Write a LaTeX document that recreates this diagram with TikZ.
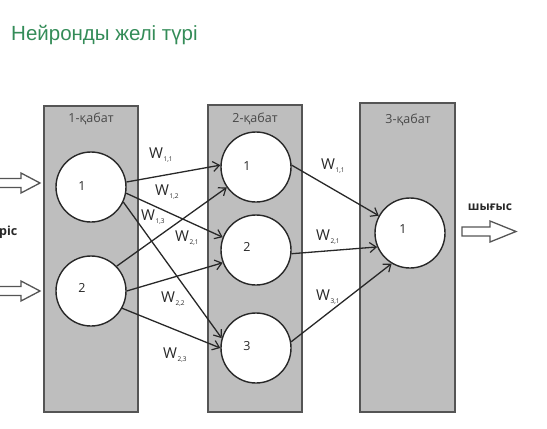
\documentclass[tikz,border=0pt]{standalone}
\usepackage{fontspec}
\setmainfont{Open Sans}
\newfontfamily\titlefont{Liberation Sans}
\usetikzlibrary{arrows.meta}
\definecolor{titlegreen}{RGB}{52,140,88}
\definecolor{boxgray}{RGB}{190,190,190}
\definecolor{boxedge}{RGB}{85,85,85}
\definecolor{inkgray}{RGB}{40,40,40}
\newcommand{\wgt}[1]{W\kern0.5pt\raisebox{-3.5pt}{\fontsize{6.5}{7}\selectfont #1}}
\tikzset{
  layerbox/.style={draw=boxedge, line width=1.1pt, fill=boxgray},
  neuron/.style={circle, draw=inkgray, line width=1.4pt, fill=white, minimum size=70pt, inner sep=0pt},
  nlabel/.style={font=\fontsize{12.5}{14}\selectfont, text=inkgray},
  laylabel/.style={font=\fontsize{12.5}{14}\selectfont, text=inkgray!85},
  wlabel/.style={font=\fontsize{15}{17}\selectfont, text=inkgray, anchor=west, inner sep=0pt},
  conn/.style={draw=inkgray, line width=1.3pt, -{Straight Barb[length=6.5pt,width=10pt,line width=1.2pt]}},
  blockarrow/.style={draw=boxedge, line width=1.3pt, fill=white, line join=miter}
}
\begin{document}
\begin{tikzpicture}[x=1pt,y=-1pt]
\useasboundingbox (0,0) rectangle (547,429);
% title
\node[anchor=west, inner sep=0pt, text=titlegreen, font=\titlefont\fontsize{20.5}{24}\selectfont] (title) at (11,35) {Нейронды желі түрі};
% layer boxes
\draw[layerbox] (44,106) rectangle (138,412);
\draw[layerbox] (208,105) rectangle (302,412);
\draw[layerbox] (360,103) rectangle (455,412);
\node[laylabel] (l1) at (91,119) {1-қабат};
\node[laylabel] (l2) at (255,119) {2-қабат};
\node[laylabel] (l3) at (408,120) {3-қабат};
% neurons
\node[neuron] (a1) at (91,187) {};
\node[neuron] (a2) at (91,291) {};
\node[neuron] (b1) at (256,167) {};
\node[neuron] (b2) at (256,250) {};
\node[neuron] (b3) at (256,348) {};
\node[neuron] (c1) at (410,233) {};
\node[nlabel] (ta1) at (82,186) {1};
\node[nlabel] (ta2) at (82,288) {2};
\node[nlabel] (tb1) at (247,166) {1};
\node[nlabel] (tb2) at (247,247) {2};
\node[nlabel] (tb3) at (247,346) {3};
\node[nlabel] (tc1) at (403,229) {1};
% connections
\draw[conn] (a1.8) -- (b1.177);
\draw[conn] (a1.-10) -- (b2.159);
\draw[conn] (a1.-25) -- (b3.164);
\draw[conn] (a2.44) -- (b1.215);
\draw[conn] (a2.0) -- (b2.201);
\draw[conn] (a2.-29) -- (b3.180);
\draw[conn] (b1.3) -- (c1.151);
\draw[conn] (b2.-6) -- (c1.203);
\draw[conn] (b3.10) -- (c1.239);
% weights
\node[wlabel] (w11) at (149,155) {\wgt{1,1}};
\node[wlabel] (w12) at (155,192) {\wgt{1,2}};
\node[wlabel] (w13) at (141,217) {\wgt{1,3}};
\node[wlabel] (w21) at (175,238) {\wgt{2,1}};
\node[wlabel] (w22) at (161,299) {\wgt{2,2}};
\node[wlabel] (w23) at (163,355) {\wgt{2,3}};
\node[wlabel] (v11) at (321,166) {\wgt{1,1}};
\node[wlabel] (v21) at (316,237) {\wgt{2,1}};
\node[wlabel] (v31) at (316,297) {\wgt{3,1}};
% input / output arrows
\draw[blockarrow] (-5,178.5) -- (21,178.5) -- (21,173) -- (40,183) -- (21,193) -- (21,187.5) -- (-5,187.5) -- cycle;
\draw[blockarrow] (-5,286.5) -- (21,286.5) -- (21,281) -- (40,291) -- (21,301) -- (21,295.5) -- (-5,295.5) -- cycle;
\draw[blockarrow] (462,227) -- (490,227) -- (490,221) -- (516,231.5) -- (490,242) -- (490,236) -- (462,236) -- cycle;
\node[font=\fontsize{12}{14}\selectfont\bfseries, text=inkgray] (out) at (490,207) {шығыс};
\node[font=\fontsize{12.5}{14}\selectfont\bfseries, text=inkgray, anchor=west, inner sep=0pt] (inp) at (-1,232) {ріс};
\end{tikzpicture}
\end{document}
